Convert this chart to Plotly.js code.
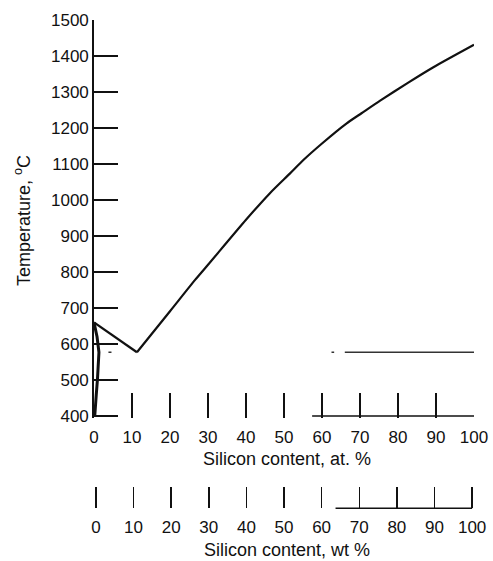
<!DOCTYPE html>
<html>
<head>
<meta charset="utf-8">
<script src="https://cdn.plot.ly/plotly-3.0.1.min.js"></script>
<style>
  html, body { margin: 0; padding: 0; background: #fff; }
  #chart { width: 493px; height: 561px; }
</style>
</head>
<body>
<div id="chart"></div>
<script>
// Al–Si system: liquidus branches, eutectic and aluminium-side solidus/solvus
const liqAlAt = [0, 11.3];
const liqAlT  = [660, 577];

const liqSiAt = [11.3, 20, 26.6, 30, 40, 46.3, 51.6, 55.1, 60, 66.5, 70.4, 75.3, 82.7, 89.2, 100];
const liqSiT  = [577, 691, 778, 820, 945, 1019, 1074, 1111, 1157, 1213, 1241, 1276, 1326, 1368, 1431];

const alSideAt = [0, 0.8, 1.3, 1.2, 0.9, 0.6, 0.35, 0.2];
const alSideT  = [660, 620, 577, 540, 500, 460, 420, 400];

const eutecticAt = [3.8, 4.6, null, 62.5, 63.2, null, 66, 100];
const eutecticT  = [577, 577, null, 577, 577, null, 577, 577];

const atBaseAt = [57.4, 100];
const atBaseT  = [400, 400];

const wtBaseWt = [63.7, 100];
const wtBaseY  = [0, 0];

const tempTicks = [400, 500, 600, 700, 800, 900, 1000, 1100, 1200, 1300, 1400, 1500];
const compTicks = [0, 10, 20, 30, 40, 50, 60, 70, 80, 90, 100];

const ink = '#111';
const tickFont = { family: '"Liberation Sans", Arial, sans-serif', size: 17, color: ink };
const titleFont = { family: '"Liberation Sans", Arial, sans-serif', size: 18, color: ink };

const traces = [
  { x: liqAlAt, y: liqAlT, mode: 'lines', line: { color: ink, width: 2.2 }, xaxis: 'x', yaxis: 'y', hoverinfo: 'skip' },
  { x: liqSiAt, y: liqSiT, mode: 'lines', line: { color: ink, width: 2.2, shape: 'spline', smoothing: 0.6 }, xaxis: 'x', yaxis: 'y', hoverinfo: 'skip' },
  { x: alSideAt, y: alSideT, mode: 'lines', line: { color: ink, width: 3 }, xaxis: 'x', yaxis: 'y', hoverinfo: 'skip' },
  { x: eutecticAt, y: eutecticT, mode: 'lines', line: { color: '#333', width: 1.3 }, xaxis: 'x', yaxis: 'y', hoverinfo: 'skip' },
  { x: atBaseAt, y: atBaseT, mode: 'lines', line: { color: ink, width: 1.4 }, xaxis: 'x', yaxis: 'y', hoverinfo: 'skip' },
  { x: wtBaseWt, y: wtBaseY, mode: 'lines', line: { color: ink, width: 1.4 }, xaxis: 'x2', yaxis: 'y2', hoverinfo: 'skip' }
];

const layout = {
  width: 493, height: 561,
  margin: { l: 94, r: 19, t: 20, b: 27 },
  paper_bgcolor: '#fff', plot_bgcolor: 'rgba(0,0,0,0)',
  showlegend: false,
  xaxis: {
    domain: [0, 1], anchor: 'y', range: [0, 100],
    tickvals: compTicks, ticktext: compTicks.map(String),
    ticks: 'inside', ticklen: 25, tickwidth: 1.5, tickcolor: ink,
    ticklabelstandoff: 7,
    showline: false, showgrid: false, zeroline: false,
    tickfont: tickFont
  },
  yaxis: {
    domain: [0.2261, 1], anchor: 'x', range: [395, 1500],
    tickvals: tempTicks, ticktext: tempTicks.map(String),
    ticks: 'inside', ticklen: 24, tickwidth: 1.6, tickcolor: ink,
    showline: true, linecolor: ink, linewidth: 1.8,
    showgrid: false, zeroline: false,
    tickfont: tickFont
  },
  xaxis2: {
    domain: [0, 1], anchor: 'free', position: 0.05, range: [-0.5, 100.5],
    tickvals: compTicks, ticktext: compTicks.map(String),
    ticks: 'inside', ticklen: 21, tickwidth: 1.5, tickcolor: ink,
    ticklabelstandoff: 7,
    showline: false, showgrid: false, zeroline: false,
    tickfont: tickFont
  },
  yaxis2: {
    domain: [0, 0.1], anchor: 'x2', range: [-1, 1], visible: false
  },
  annotations: [
    { text: 'Silicon content, at. %', xref: 'paper', yref: 'paper', x: 0.508, y: 0.1459,
      xanchor: 'center', yanchor: 'middle', showarrow: false, font: titleFont },
    { text: 'Silicon content, wt %', xref: 'paper', yref: 'paper', x: 0.508, y: -0.031,
      xanchor: 'center', yanchor: 'middle', showarrow: false, font: titleFont },
    { text: 'Temperature, <sup>o</sup>C', xref: 'paper', yref: 'paper', x: -0.1868, y: 0.609,
      xanchor: 'center', yanchor: 'middle', textangle: -90, showarrow: false,
      font: { family: '"Liberation Sans", Arial, sans-serif', size: 18, color: ink } }
  ]
};

Plotly.newPlot('chart', traces, layout, { displayModeBar: false, staticPlot: true });
</script>
</body>
</html>
